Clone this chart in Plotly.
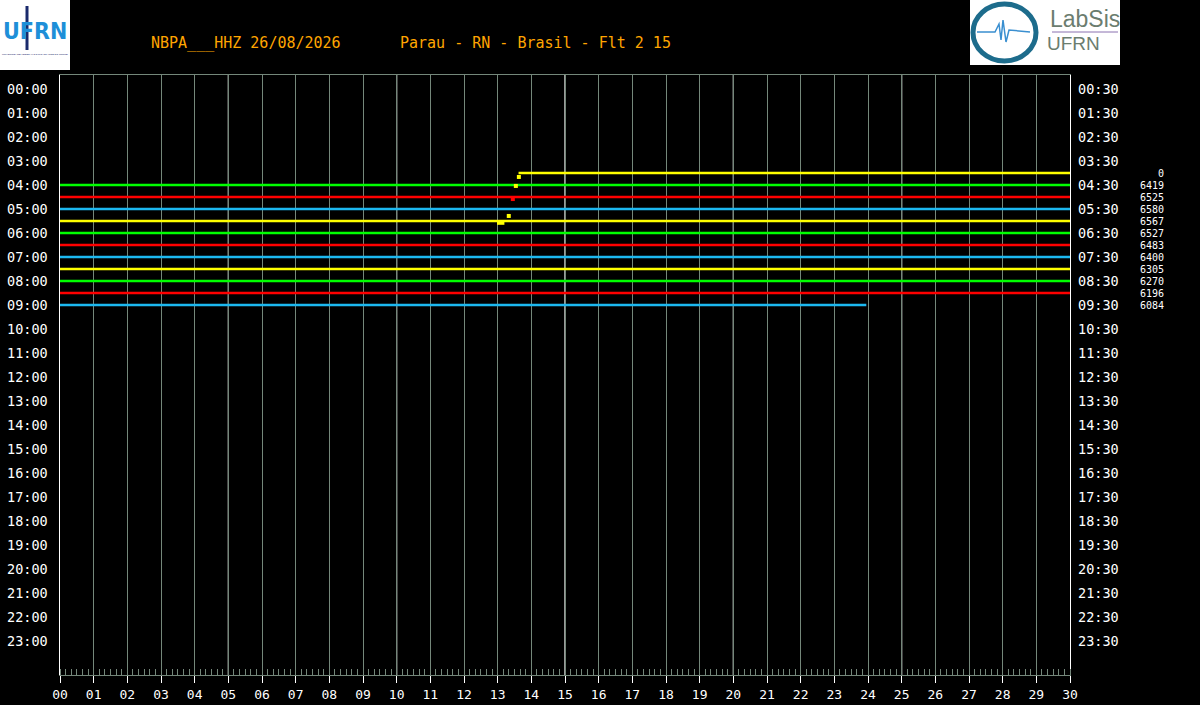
import plotly.graph_objects as go

# helicorder rows: each row is 30 minutes, row k starts at k*30 min after 00:00
rows = [7, 8, 9, 10, 11, 12, 13, 14, 15, 16, 17, 18]
row_start = [13.62, 0, 0, 0, 0, 0, 0, 0, 0, 0, 0, 0]
row_end = [30, 30, 30, 30, 30, 30, 30, 30, 30, 30, 30, 23.95]
row_mean = [0, 6419, 6525, 6580, 6567, 6527, 6483, 6400, 6305, 6270, 6196, 6084]

# isolated points around the start of the 03:30 row
event_min = [13.63, 13.54, 13.45, 13.33]
event_row = [7.33, 8.08, 9.17, 10.58]
event_color = ["#ffff00", "#ffff00", "#ff0000", "#ffff00"]

left_labels = ["%02d:00" % h for h in range(24)]
right_labels = ["%02d:30" % h for h in range(24)]
minute_labels = ["%02d" % m for m in range(31)]

palette = ["#00ff00", "#ff0000", "#1cb8f0", "#ffff00"]
grid_col = "#74877a"
mono = "DejaVu Sans Mono"

# pixel helpers for decoration (plot area is 60..1070 x 75..675)
def px(x):
    return (x - 60) / 1010.0

def py(y):
    return (675 - y) / 600.0

fig = go.Figure()

for r, s, e in zip(rows, row_start, row_end):
    fig.add_trace(go.Scatter(
        x=[s, e], y=[r, r], mode="lines",
        line=dict(color=palette[r % 4], width=2.6),
        showlegend=False, hoverinfo="skip"
    ))

# small thicker patch on the 05:30 row
fig.add_trace(go.Scatter(
    x=[12.98, 13.2], y=[11.15, 11.15], mode="lines",
    line=dict(color="#ffff00", width=4), showlegend=False, hoverinfo="skip"
))

fig.add_trace(go.Scatter(
    x=event_min, y=event_row, mode="markers",
    marker=dict(color=event_color, size=4, symbol="square"),
    showlegend=False, hoverinfo="skip"
))

annotations = []
for i in range(24):
    annotations.append(dict(x=-0.0095, xref="paper", y=2 * i, yref="y",
                            text=left_labels[i], showarrow=False,
                            xanchor="right", yanchor="middle",
                            font=dict(family=mono, size=13.5, color="white")))
    annotations.append(dict(x=1.0055, xref="paper", y=2 * i, yref="y",
                            text=right_labels[i], showarrow=False,
                            xanchor="left", yanchor="middle",
                            font=dict(family=mono, size=13.5, color="white")))
for r, m in zip(rows, row_mean):
    annotations.append(dict(x=px(1166), xref="paper", y=r, yref="y",
                            text=str(m), showarrow=False,
                            xanchor="right", yanchor="middle",
                            font=dict(family=mono, size=10, color="white")))

# title texts
annotations.append(dict(x=px(149), xref="paper", y=py(43), yref="paper",
                        text="NBPA___HHZ 26/08/2026", showarrow=False,
                        xanchor="left", yanchor="middle",
                        font=dict(family=mono, size=15, color="#ffa500")))
annotations.append(dict(x=px(398), xref="paper", y=py(43), yref="paper",
                        text="Parau - RN - Brasil - Flt 2 15", showarrow=False,
                        xanchor="left", yanchor="middle",
                        font=dict(family=mono, size=15, color="#ffa500")))

# logos
annotations.append(dict(x=px(35), xref="paper", y=py(31), yref="paper",
                        text="<b>UFRN</b>", showarrow=False,
                        xanchor="center", yanchor="middle",
                        font=dict(family="DejaVu Sans Condensed", size=23, color="#1e8fd8")))
annotations.append(dict(x=px(35), xref="paper", y=py(54), yref="paper",
                        text="UNIVERSIDADE FEDERAL DO RIO GRANDE DO NORTE", showarrow=False,
                        xanchor="center", yanchor="middle",
                        font=dict(family="Liberation Sans", size=2.5, color="#1a2a6c")))
annotations.append(dict(x=px(1085), xref="paper", y=py(19), yref="paper",
                        text="LabSis", showarrow=False,
                        xanchor="center", yanchor="middle",
                        font=dict(family="Liberation Sans", size=23, color="#6b7d6f")))
annotations.append(dict(x=px(1073), xref="paper", y=py(44), yref="paper",
                        text="UFRN", showarrow=False,
                        xanchor="center", yanchor="middle",
                        font=dict(family="Liberation Sans", size=19, color="#6b7d6f")))

shapes = []
for m in [5, 10, 15, 20, 25]:
    shapes.append(dict(type="line", xref="x", yref="paper", x0=m, x1=m, y0=0, y1=1,
                       line=dict(color="white", width=1.2), layer="below"))
shapes.append(dict(type="rect", xref="paper", yref="paper", x0=px(0), x1=px(70),
                   y0=py(70), y1=py(0), fillcolor="white", line=dict(width=0), layer="below"))
shapes.append(dict(type="rect", xref="paper", yref="paper", x0=px(970), x1=px(1120),
                   y0=py(65), y1=py(0), fillcolor="white", line=dict(width=0), layer="below"))
shapes.append(dict(type="line", xref="paper", yref="paper", x0=px(27), x1=px(27),
                   y0=py(50), y1=py(6), line=dict(color="#1a2a6c", width=3)))
shapes.append(dict(type="circle", xref="paper", yref="paper", x0=px(973), x1=px(1036),
                   y0=py(61), y1=py(4), line=dict(color="#1d6c8c", width=5)))
shapes.append(dict(type="path", xref="paper", yref="paper",
                   path="M %f,%f L %f,%f L %f,%f L %f,%f L %f,%f L %f,%f L %f,%f L %f,%f" % (
                       px(977), py(32), px(995), py(32), px(999), py(24), px(1001), py(40),
                       px(1003), py(20), px(1006), py(42), px(1009), py(30), px(1030), py(32)),
                   line=dict(color="#3a8fd0", width=1.5)))
shapes.append(dict(type="line", xref="paper", yref="paper", x0=px(1052), x1=px(1118),
                   y0=py(32), y1=py(32), line=dict(color="#8a70b0", width=1)))

fig.update_layout(
    width=1200, height=705,
    margin=dict(l=60, r=130, t=75, b=30),
    paper_bgcolor="black", plot_bgcolor="black",
    showlegend=False,
    annotations=annotations,
    shapes=shapes,
    xaxis=dict(
        range=[0, 30], tickvals=list(range(31)), ticktext=minute_labels,
        showgrid=True, gridcolor=grid_col, gridwidth=1, zeroline=False,
        showline=True, linecolor=grid_col, linewidth=1, mirror=True,
        ticks="outside", ticklen=7, tickcolor="white", tickwidth=1.2,
        tickfont=dict(family=mono, size=13, color="white"),
        minor=dict(dtick=1 / 6, tick0=0, ticks="inside", ticklen=6,
                   tickcolor=grid_col, showgrid=False),
        automargin=False, fixedrange=True,
    ),
    yaxis=dict(
        range=[48.833, -1.167], showticklabels=False, showgrid=False,
        zeroline=False, showline=True, linecolor="white", linewidth=1.2,
        mirror=True, ticks="", automargin=False, fixedrange=True,
    ),
)

fig.write_html("out.html", config={"displayModeBar": False},
               post_script="document.body.style.margin='0';document.body.style.background='black';")
